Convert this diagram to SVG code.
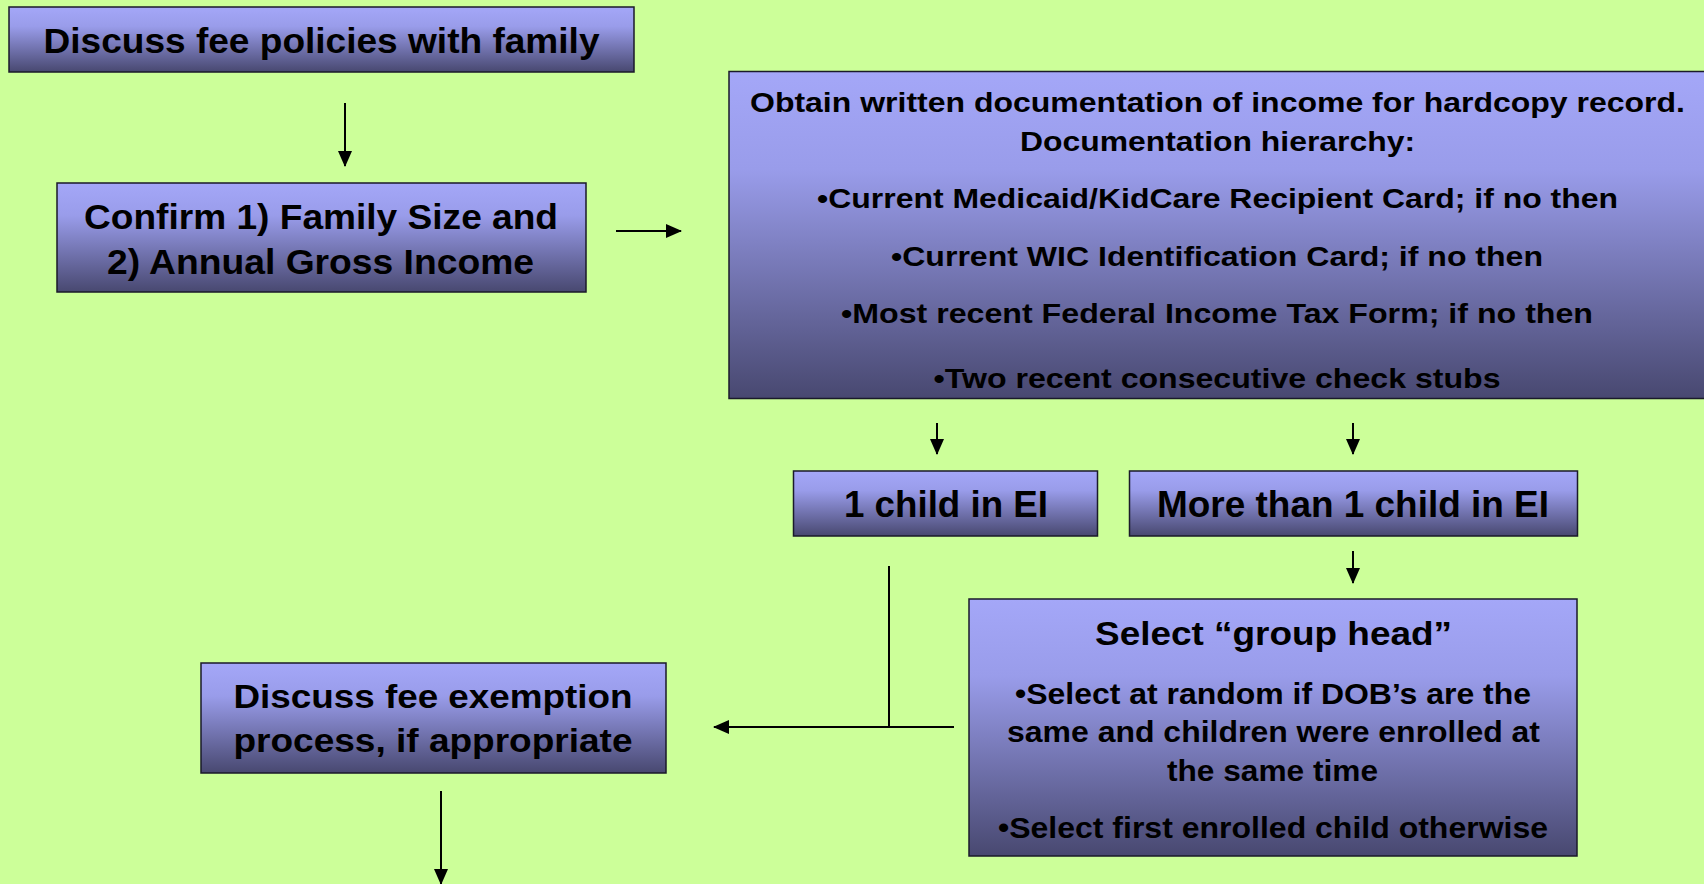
<svg xmlns="http://www.w3.org/2000/svg" width="1704" height="884" viewBox="0 0 1704 884">
<defs>
<linearGradient id="g" x1="0" y1="0" x2="0" y2="1">
<stop offset="0" stop-color="#A4A7F8"/>
<stop offset="0.3" stop-color="#999CEA"/>
<stop offset="1" stop-color="#484870"/>
</linearGradient>
<marker id="ah" markerUnits="userSpaceOnUse" markerWidth="16" markerHeight="14" refX="15" refY="7" orient="auto">
<path d="M0,0 L16,7 L0,14 Z" fill="#000"/>
</marker>
<style>
.box{fill:url(#g);stroke:#1a1a2a;stroke-width:1.5}
.t{font-family:"Liberation Sans",Arial,sans-serif;font-weight:bold;fill:#000;text-anchor:middle}
.c{stroke:#000;stroke-width:2;fill:none}
</style>
</defs>
<rect width="1704" height="884" fill="#CCFF99"/>
<g id="connectors">
<line class="c" x1="345" y1="103" x2="345" y2="166" marker-end="url(#ah)"/>
<line class="c" x1="616" y1="231" x2="681" y2="231" marker-end="url(#ah)"/>
<line class="c" x1="937" y1="423" x2="937" y2="454" marker-end="url(#ah)"/>
<line class="c" x1="1353" y1="423" x2="1353" y2="454" marker-end="url(#ah)"/>
<line class="c" x1="1353" y1="551" x2="1353" y2="583" marker-end="url(#ah)"/>
<line class="c" x1="889" y1="566" x2="889" y2="727"/>
<line class="c" x1="954" y1="727" x2="714" y2="727" marker-end="url(#ah)"/>
<line class="c" x1="441" y1="791" x2="441" y2="884" marker-end="url(#ah)"/>
</g>
<g id="n1">
<rect class="box" x="9" y="7" width="625" height="65"/>
<text class="t" x="321.5" y="53" font-size="35" textLength="556" lengthAdjust="spacingAndGlyphs">Discuss fee policies with family</text>
</g>
<g id="n2">
<rect class="box" x="57" y="183" width="529" height="109"/>
<text class="t" x="321" y="229" font-size="35" textLength="474" lengthAdjust="spacingAndGlyphs">Confirm 1) Family Size and</text>
<text class="t" x="320.5" y="274" font-size="35" textLength="427" lengthAdjust="spacingAndGlyphs">2) Annual Gross Income</text>
</g>
<g id="n3">
<rect class="box" x="729" y="71.5" width="985" height="327"/>
<text class="t" x="1217.5" y="111.5" font-size="27" textLength="935" lengthAdjust="spacingAndGlyphs">Obtain written documentation of income for hardcopy record.</text>
<text class="t" x="1217.5" y="150.5" font-size="27" textLength="395" lengthAdjust="spacingAndGlyphs">Documentation hierarchy:</text>
<text class="t" x="1217.5" y="208" font-size="27" textLength="801" lengthAdjust="spacingAndGlyphs">•Current Medicaid/KidCare Recipient Card; if no then</text>
<text class="t" x="1217" y="265.5" font-size="27" textLength="652" lengthAdjust="spacingAndGlyphs">•Current WIC Identification Card; if no then</text>
<text class="t" x="1217" y="323" font-size="27" textLength="752" lengthAdjust="spacingAndGlyphs">•Most recent Federal Income Tax Form; if no then</text>
<text class="t" x="1217" y="388" font-size="27" textLength="567" lengthAdjust="spacingAndGlyphs">•Two recent consecutive check stubs</text>
</g>
<g id="n4">
<rect class="box" x="793.5" y="471" width="304" height="65"/>
<text class="t" x="946" y="517" font-size="37" textLength="204" lengthAdjust="spacingAndGlyphs">1 child in EI</text>
</g>
<g id="n5">
<rect class="box" x="1129.5" y="471" width="448" height="65"/>
<text class="t" x="1353" y="517" font-size="37" textLength="392" lengthAdjust="spacingAndGlyphs">More than 1 child in EI</text>
</g>
<g id="n6">
<rect class="box" x="969" y="599" width="608" height="257"/>
<text class="t" x="1273.5" y="645" font-size="33" textLength="357" lengthAdjust="spacingAndGlyphs">Select “group head”</text>
<text class="t" x="1273" y="704" font-size="30" textLength="516" lengthAdjust="spacingAndGlyphs">•Select at random if DOB’s are the</text>
<text class="t" x="1273.5" y="742" font-size="30" textLength="533" lengthAdjust="spacingAndGlyphs">same and children were enrolled at</text>
<text class="t" x="1272.5" y="781" font-size="30" textLength="211" lengthAdjust="spacingAndGlyphs">the same time</text>
<text class="t" x="1273" y="838" font-size="30" textLength="550" lengthAdjust="spacingAndGlyphs">•Select first enrolled child otherwise</text>
</g>
<g id="n7">
<rect class="box" x="201" y="663" width="465" height="110"/>
<text class="t" x="433" y="708" font-size="34" textLength="399" lengthAdjust="spacingAndGlyphs">Discuss fee exemption</text>
<text class="t" x="433" y="752" font-size="34" textLength="399" lengthAdjust="spacingAndGlyphs">process, if appropriate</text>
</g>
</svg>
